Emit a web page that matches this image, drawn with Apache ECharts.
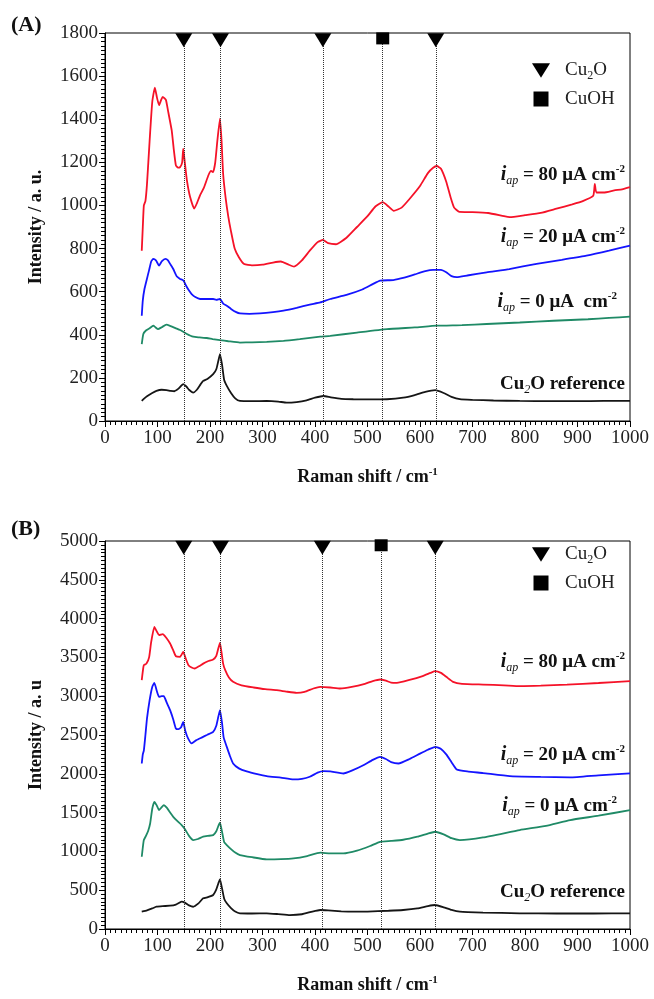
<!DOCTYPE html>
<html><head><meta charset="utf-8">
<script src="https://cdn.jsdelivr.net/npm/echarts@6/dist/echarts.min.js"></script>
<style>html,body{margin:0;padding:0;background:#fff}#c{width:654px;height:999px}</style>
</head><body><div id="c"></div>
<script>
// ---- Panel A data: [Raman shift cm-1, intensity a.u.] ----
const a80 = [[70,790],[72,900],[74,1000],[77,1020],[80,1100],[85,1300],[90,1480],[95,1547],[99,1500],[103,1465],[107,1490],[110,1504],[116,1490],[120,1440],[127,1349],[131,1260],[135,1186],[139,1175],[143,1178],[147,1200],[149,1264],[152,1200],[156,1116],[162,1040],[170,985],[175,1010],[181,1047],[188,1080],[197,1140],[202,1160],[206,1155],[210,1200],[214,1300],[219,1403],[222,1300],[225,1147],[230,1030],[235,946],[240,880],[247,800],[255,760],[265,728],[280,722],[300,725],[320,735],[335,740],[350,725],[360,716],[375,745],[390,790],[405,830],[415,840],[425,825],[440,820],[460,850],[480,900],[500,950],[515,995],[529,1015],[540,995],[550,975],[565,990],[580,1030],[600,1090],[615,1150],[625,1175],[632,1183],[640,1170],[650,1110],[658,1040],[665,990],[675,970],[700,969],[730,965],[760,950],[771,946],[800,955],[830,965],[860,985],[890,1005],[910,1020],[930,1045],[933,1100],[936,1060],[950,1060],[970,1070],[985,1075],[1000,1085]];
const a20 = [[70,488],[72,560],[75,610],[79,651],[84,700],[88,740],[92,752],[97,745],[103,721],[108,740],[115,752],[120,745],[125,725],[130,705],[137,670],[143,659],[147,655],[150,650],[155,625],[160,605],[165,589],[172,575],[181,566],[195,566],[206,566],[212,562],[219,566],[225,545],[232,535],[240,520],[250,505],[257,499],[275,497],[295,499],[320,505],[340,512],[365,525],[390,540],[410,550],[429,566],[460,585],[490,610],[510,635],[524,651],[549,654],[570,665],[590,680],[610,695],[625,701],[640,701],[650,690],[660,672],[670,667],[690,675],[727,690],[770,705],[822,729],[870,748],[917,767],[960,790],[1000,814]];
const a0 = [[70,357],[73,404],[78,420],[85,430],[92,442],[96,435],[101,426],[108,435],[117,447],[125,440],[135,430],[143,422],[155,405],[168,391],[180,388],[194,385],[205,380],[219,375],[235,370],[257,364],[280,365],[308,367],[340,372],[371,380],[410,391],[429,395],[480,410],[537,426],[590,434],[632,442],[680,445],[727,450],[790,457],[854,465],[920,472],[960,478],[1000,484]];
const aRef = [[70,93],[75,105],[80,115],[90,130],[98,140],[108,145],[117,143],[125,140],[132,138],[140,150],[149,171],[155,160],[160,145],[168,132],[175,145],[182,170],[187,186],[195,195],[206,217],[212,240],[216,280],[219,310],[223,260],[227,190],[232,163],[240,130],[248,105],[257,93],[280,92],[308,93],[330,90],[346,85],[365,88],[384,96],[400,108],[416,116],[430,110],[450,103],[473,101],[500,100],[537,101],[568,108],[590,120],[610,135],[629,143],[645,130],[660,112],[676,101],[700,98],[740,95],[790,93],[850,92],[900,92],[950,93],[1000,93]];

// ---- Panel B data ----
const b80 = [[70,3206],[72,3320],[74,3400],[79,3420],[84,3500],[88,3700],[94,3893],[99,3830],[103,3786],[110,3800],[117,3750],[124,3679],[130,3590],[135,3515],[143,3508],[149,3571],[154,3480],[159,3400],[165,3370],[171,3357],[180,3390],[187,3420],[196,3450],[206,3473],[212,3520],[216,3620],[219,3687],[222,3560],[225,3420],[229,3335],[236,3240],[244,3185],[260,3140],[283,3112],[305,3090],[327,3078],[345,3060],[365,3043],[380,3055],[397,3099],[410,3120],[429,3112],[448,3099],[470,3120],[495,3160],[510,3195],[524,3215],[535,3200],[545,3175],[556,3172],[580,3210],[605,3260],[620,3300],[629,3322],[640,3300],[650,3250],[663,3185],[680,3160],[720,3150],[760,3140],[790,3129],[830,3135],[880,3150],[940,3170],[1000,3193]];
const b20 = [[70,2133],[72,2250],[74,2300],[77,2500],[80,2713],[85,2950],[90,3120],[94,3172],[99,3060],[103,2991],[108,3000],[112,3000],[118,2910],[124,2820],[130,2700],[135,2584],[140,2575],[145,2600],[149,2670],[153,2550],[158,2460],[165,2391],[174,2434],[185,2470],[194,2500],[206,2541],[212,2620],[216,2740],[219,2820],[223,2650],[226,2470],[232,2347],[238,2230],[244,2133],[255,2070],[270,2030],[290,1995],[308,1970],[335,1950],[359,1928],[375,1935],[390,1962],[405,2015],[416,2035],[429,2030],[454,2004],[470,2040],[492,2110],[510,2180],[524,2219],[535,2190],[545,2150],[559,2133],[580,2190],[600,2260],[615,2310],[629,2348],[640,2320],[650,2250],[660,2150],[670,2056],[690,2030],[720,2010],[771,1970],[830,1960],[886,1953],[940,1980],[1000,2005]];
const b0 = [[70,931],[72,1050],[74,1146],[78,1200],[82,1260],[86,1360],[90,1550],[94,1639],[98,1600],[103,1532],[108,1570],[112,1597],[118,1560],[124,1500],[130,1446],[138,1390],[146,1339],[152,1290],[160,1200],[168,1146],[177,1160],[187,1189],[196,1200],[206,1210],[212,1260],[216,1330],[219,1369],[223,1250],[227,1120],[232,1082],[240,1030],[248,985],[257,953],[280,925],[308,897],[335,900],[359,910],[385,940],[410,983],[429,974],[454,974],[480,1010],[505,1070],[524,1124],[545,1135],[568,1150],[595,1190],[615,1230],[629,1253],[645,1220],[660,1170],[676,1146],[720,1180],[790,1275],[840,1330],[886,1404],[940,1460],[1000,1532]];
const bRef = [[70,223],[80,240],[90,265],[98,287],[110,295],[124,300],[135,315],[146,352],[152,340],[160,305],[168,287],[178,330],[187,395],[196,410],[206,438],[212,510],[216,590],[219,640],[223,520],[227,390],[232,331],[240,270],[248,225],[257,202],[280,200],[308,202],[330,192],[352,180],[375,190],[395,225],[410,245],[425,240],[450,228],[473,223],[500,225],[540,235],[568,245],[595,265],[615,295],[629,309],[645,280],[660,245],[676,223],[720,212],[790,202],[860,200],[930,200],[1000,202]];

// ---- Peak markers ----
const cu2oPeaksA = [150, 220, 415, 630];
const cuohPeaksA = [529];
const cu2oPeaksB = [150, 220, 414, 629];
const cuohPeaksB = [526];
const markerLevelA = 1766, squareLevelA = 1775;
const markerLevelB = 4912, squareLevelB = 4945;

// ---- Axis settings ----
const yMaxA = 1800, yStepA = 200;
const yMaxB = 5000, yStepB = 500;
const xMax = 1000, xStep = 100;

const FONT = "'Liberation Serif','Times New Roman',serif";
const COL = {r:'#f51228', b:'#1414ff', g:'#1f8a66', k:'#151515'};
const TRI = 'path://M0,0L20,0L10,16Z';
const SQ = 'path://M0,0L10,0L10,10L0,10Z';

const plain = v => String(v);

function xAxisCfg(gi){
  return {type:'value', gridIndex:gi, min:0, max:xMax, interval:xStep,
    name:'{t|Raman shift / cm}{s|-1}', nameLocation:'middle', nameGap:46,
    nameTextStyle:{fontFamily:FONT, fontWeight:'bold', fontSize:18, color:'#111',
      rich:{t:{fontFamily:FONT, fontWeight:'bold', fontSize:18, color:'#111'},
            s:{fontFamily:FONT, fontWeight:'bold', fontSize:11, color:'#111', padding:[0,0,10,0]}}},
    axisLine:{show:true, onZero:false, lineStyle:{color:'#000', width:1}},
    axisTick:{show:true, length:6, lineStyle:{color:'#000'}},
    minorTick:{show:true, splitNumber:10, length:4, lineStyle:{color:'#000', width:1}},
    splitLine:{show:false}, minorSplitLine:{show:false},
    axisLabel:{fontFamily:FONT, fontSize:19, color:'#222', margin:8, formatter:plain}};
}
function yAxisCfg(gi, max, step, name){
  return {type:'value', gridIndex:gi, min:0, max:max, interval:step,
    name:name, nameLocation:'middle', nameGap:60,
    nameTextStyle:{fontFamily:FONT, fontWeight:'bold', fontSize:18, color:'#111'},
    axisLine:{show:true, onZero:false, lineStyle:{color:'#000', width:1}},
    axisTick:{show:true, length:6, lineStyle:{color:'#000'}},
    minorTick:{show:true, splitNumber:10, length:4, lineStyle:{color:'#000', width:1}},
    splitLine:{show:false}, minorSplitLine:{show:false},
    axisLabel:{fontFamily:FONT, fontSize:19, color:'#222', margin:7, formatter:plain}};
}
function lineS(gi, data, color){
  return {type:'line', xAxisIndex:gi, yAxisIndex:gi, data:data, showSymbol:false, symbol:'none',
    smooth:0.15, lineStyle:{color:color, width:1.8}, itemStyle:{color:color}, silent:true, z:3};
}
function markerS(gi, name, peaks, level, sym, size){
  return {type:'scatter', name:name, xAxisIndex:gi, yAxisIndex:gi,
    data:peaks.map(p=>[p, level]), symbol:sym, symbolSize:size,
    itemStyle:{color:'#000', opacity:1}, z:5, silent:true,
    markLine:{silent:true, symbol:['none','none'], label:{show:false},
      lineStyle:{type:'dotted', color:'#333', width:1},
      data:peaks.map(p=>({xAxis:p}))}};
}
function legendCfg(top){
  return {orient:'vertical', left:527, top:top, itemWidth:18, itemHeight:15, itemGap:8,
    data:['Cu2O','CuOH'], selectedMode:false,
    itemStyle:{opacity:1, color:'#000'},
    formatter:n => n==='Cu2O' ? '{t|Cu}{s|2}{t|O}' : '{t|CuOH}',
    textStyle:{fontFamily:FONT, fontSize:19, color:'#222', padding:[0,0,0,10],
      rich:{t:{fontFamily:FONT, fontSize:19, color:'#222'},
            s:{fontFamily:FONT, fontSize:12, color:'#222', padding:[10,0,0,0]}}}};
}
const richLbl = {
  i:{fontFamily:FONT, fontStyle:'italic', fontWeight:'bold', fontSize:20, color:'#111'},
  sub:{fontFamily:FONT, fontStyle:'italic', fontSize:12, color:'#111', padding:[12,0,0,0]},
  t:{fontFamily:FONT, fontWeight:'bold', fontSize:19, color:'#111'},
  sup:{fontFamily:FONT, fontWeight:'bold', fontSize:11, color:'#111', padding:[0,0,12,0]}
};
function lbl(x, y, text){
  return {type:'text', x:x, y:y, silent:true, z:10,
    style:{text:text, rich:richLbl, align:'right', verticalAlign:'middle', font:'bold 19px '+FONT, fill:'#111'}};
}

const chart = echarts.init(document.getElementById('c'), null, {renderer:'canvas'});
chart.setOption({
  animation:false,
  backgroundColor:'#fff',
  grid:[
    {left:105, right:24, top:33, height:388, show:true, borderColor:'#000', borderWidth:1, backgroundColor:'transparent'},
    {left:105, right:24, top:541, height:388, show:true, borderColor:'#000', borderWidth:1, backgroundColor:'transparent'}
  ],
  legend:[legendCfg(56), legendCfg(540)],
  xAxis:[xAxisCfg(0), xAxisCfg(1)],
  yAxis:[yAxisCfg(0, yMaxA, yStepA, 'Intensity / a. u.'), yAxisCfg(1, yMaxB, yStepB, 'Intensity / a. u')],
  series:[
    lineS(0, a80, COL.r), lineS(0, a20, COL.b), lineS(0, a0, COL.g), lineS(0, aRef, COL.k),
    markerS(0, 'Cu2O', cu2oPeaksA, markerLevelA, TRI, [17,14]),
    markerS(0, 'CuOH', cuohPeaksA, squareLevelA, SQ, [13,12]),
    lineS(1, b80, COL.r), lineS(1, b20, COL.b), lineS(1, b0, COL.g), lineS(1, bRef, COL.k),
    markerS(1, 'Cu2O', cu2oPeaksB, markerLevelB, TRI, [17,14]),
    markerS(1, 'CuOH', cuohPeaksB, squareLevelB, SQ, [13,12])
  ],
  graphic:[
    {type:'text', left:11, top:14, silent:true, style:{text:'(A)', font:'bold 22px '+FONT, fill:'#111'}},
    {type:'text', left:11, top:518, silent:true, style:{text:'(B)', font:'bold 22px '+FONT, fill:'#111'}},
    lbl(625, 175, '{i|i}{sub|ap}{t| = 80 μA cm}{sup|-2}'),
    lbl(625, 237, '{i|i}{sub|ap}{t| = 20 μA cm}{sup|-2}'),
    lbl(617, 302, '{i|i}{sub|ap}{t| = 0 μA  cm}{sup|-2}'),
    lbl(625, 384, '{t|Cu}{sub|2}{t|O reference}'),
    lbl(625, 662, '{i|i}{sub|ap}{t| = 80 μA cm}{sup|-2}'),
    lbl(625, 755, '{i|i}{sub|ap}{t| = 20 μA cm}{sup|-2}'),
    lbl(617, 806, '{i|i}{sub|ap}{t| = 0 μA cm}{sup|-2}'),
    lbl(625, 892, '{t|Cu}{sub|2}{t|O reference}')
  ]
});
</script></body></html>
